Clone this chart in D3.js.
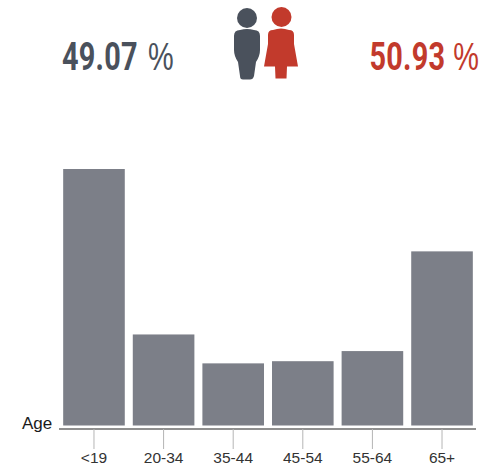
<!DOCTYPE html>
<html><head><meta charset="utf-8">
<script src="https://cdn.jsdelivr.net/npm/d3@7"></script>
<style>html,body{margin:0;padding:0;background:#fff}svg{display:block}</style>
</head><body><svg id="c" width="479" height="466"></svg>
<script>
const categories = ["<19","20-34","35-44","45-54","55-64","65+"];
const values = [35.5,12.6,8.6,8.9,10.3,24.1];
const maleShare = "49.07";
const femaleShare = "50.93";
const unit = "%";
const axisLabel = "Age";
const svg = d3.select("#c");
const x = d3.scaleBand().domain(categories).range([59,477]).paddingInner(0.115).paddingOuter(0.06);
const y = d3.scaleLinear().domain([0,35.5]).range([425.5,169]);
svg.selectAll("rect.bar").data(values).join("rect").attr("class","bar")
  .attr("x",(d,i)=>x(categories[i])).attr("width",x.bandwidth())
  .attr("y",d=>y(d)).attr("height",d=>y(0)-y(d)).attr("fill","#7c7f88");
const axis = svg.append("g").attr("transform","translate(0,429)")
  .call(d3.axisBottom(x).tickSize(20).tickSizeOuter(0));
axis.select(".domain").attr("stroke","#8f8f8f").attr("stroke-width",2).attr("d","M59,0H476");
axis.selectAll(".tick line").attr("stroke","#b5b5b5").attr("stroke-width",1);
axis.selectAll(".tick text").attr("font-family","Liberation Sans").attr("font-size",15.5).attr("fill","#333").attr("y",33.5).attr("dy",0);
svg.append("text").attr("x",22).attr("y",429).text(axisLabel).attr("font-family","Liberation Sans").attr("font-size",17).attr("fill","#1a1a1a");
function big(t,tx,c,gap){
  const g=svg.append("text").attr("transform",`translate(${tx},69.5) scale(0.76,1)`).attr("fill",c).attr("font-size",38);
  g.append("tspan").text(t).attr("font-family","Roboto").attr("font-weight",700).attr("letter-spacing",0.3);
  g.append("tspan").text(" "+unit).attr("dx",gap).attr("font-family","Liberation Sans").attr("font-weight",400);
}
big(maleShare,62,"#4a515c",3);
big(femaleShare,369.5,"#c23a2c",0);
svg.append("circle").attr("cx",247).attr("cy",18).attr("r",10).attr("fill","#4a515c");
svg.append("path").attr("fill","#4a515c").attr("d","M240,30Q247,28 254,30Q260,30 260,36L260,50Q260,56 256,62L254,76Q253,79.5 250,79.5L243,79.5Q240,79.5 240,76L238,62Q234,56 234,50L234,36Q234,30 240,30Z");
svg.append("circle").attr("cx",281.5).attr("cy",17).attr("r",10).attr("fill","#c23a2c");
svg.append("path").attr("fill","#c23a2c").attr("d","M273,30Q281,27 289,30Q294,30 294,35L294,44L298,66.5L287,66.5L286.5,78.5L275.5,78.5L275,66.5L264,66.5L268,44L268,35Q268,30 273,30Z");
</script></body></html>
